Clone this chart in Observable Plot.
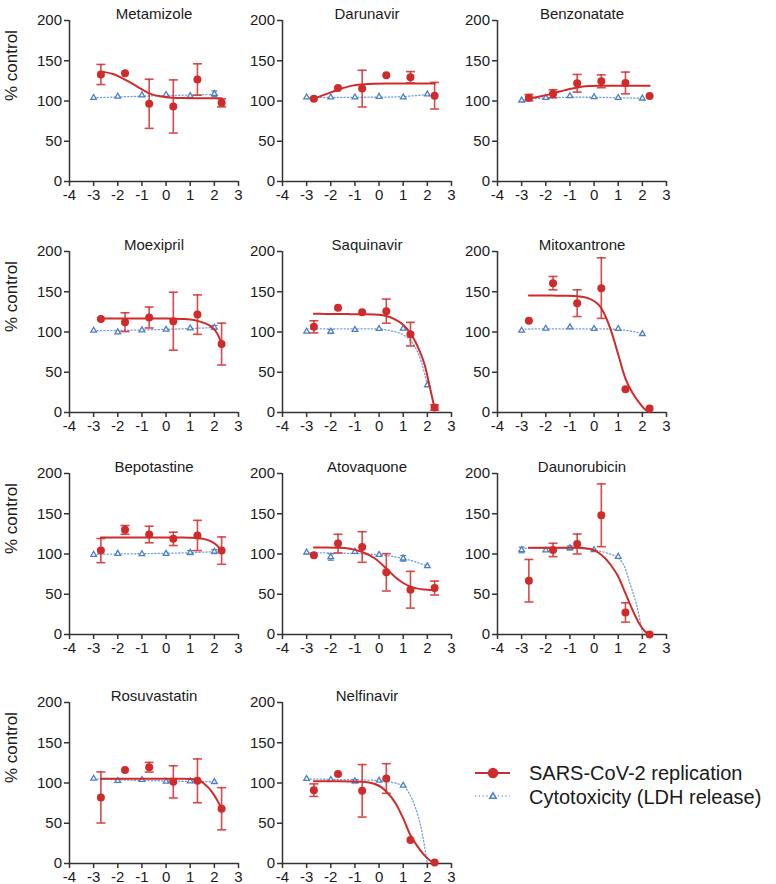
<!DOCTYPE html>
<html><head><meta charset="utf-8">
<script src="https://cdn.jsdelivr.net/npm/d3@7"></script>
<script src="https://cdn.jsdelivr.net/npm/@observablehq/plot@0.6"></script>
<style>
body{margin:0;background:#fff;font-family:"Liberation Sans",Arial,sans-serif;}
#root{position:relative;width:776px;height:884px;overflow:hidden;}
.panel{position:absolute;}
.leg{position:absolute;font-size:20px;line-height:24px;color:#1a1a1a;white-space:nowrap;}
</style></head><body><div id="root"></div>
<script>
// ---------- data ----------
const drugs = ["Metamizole","Darunavir","Benzonatate","Moexipril","Saquinavir","Mitoxantrone",
  "Bepotastine","Atovaquone","Daunorubicin","Rosuvastatin","Nelfinavir"];
const xTicks = [-4,-3,-2,-1,0,1,2,3];
const yTicks = [0,50,100,150,200];
const legendLabels = ["SARS-CoV-2 replication","Cytotoxicity (LDH release)"];

// SARS-CoV-2 replication (red): log concentration, mean and SD
const replicationX = [-2.7,-1.7,-0.7,0.3,1.3,2.3];
const replicationMean = [
  [132.9,134.6,96.5,93.2,126.7,97.7],
  [102.9,116.2,115.4,132,129.5,106.6],
  [104.1,109,122,124.5,122.4,106.2],
  [116.3,112.2,118,113.4,121.6,85],
  [106.4,130,124.6,125.9,97.3,6.2],
  [113.9,160.7,135.8,154.5,29,5],
  [104.2,130,124.2,118.8,123,104.2],
  [98.3,112.9,108.7,77.2,55.6,57.7],
  [66.8,105,112.4,148.1,27.4,0],
  [82,116.3,119.6,101.4,102.7,68],
  [91.1,111.3,90.3,105.6,29.3,1.2]
];
const replicationSD = [
  [12.5,0,30.5,33,19.5,5],
  [0,0,22.8,0,7,16.5],
  [4,5,11,8,13.5,0],
  [0,11.7,13,36,24.5,26],
  [7.5,0,0,15,14.7,3.3],
  [0,8.3,16.6,37.6,0,0],
  [15,5.4,10.3,8.3,18.8,17],
  [0,11.6,19,23.2,22.8,8.7],
  [26.4,8.3,12.4,39,12,0],
  [31.7,0,6,20,27.2,26.2],
  [7.8,0,32.6,18.4,0,0]
];
// Cytotoxicity (blue): log concentration, mean and SD
const cytotoxX = [-3,-2,-1,0,1,2];
const cytotoxMean = [
  [104,105.6,107.2,107.7,106.4,108.9],
  [104.6,104.6,104.6,105.4,104.6,108.3],
  [100.8,104.1,106.2,105,104,103.3],
  [101.9,99.8,102.3,103,104.7,105.6],
  [100.6,100.6,102.7,104,104.3,34],
  [101.9,104.3,106,104,104,97.7],
  [99.2,100.4,100,100.4,101.7,103],
  [102,96.3,102.9,99.2,94.6,85],
  [105,104.6,107.5,105,96.7,null],
  [105.6,102.7,104,101.9,102.3,101.4],
  [105.2,104,102.3,103,96.9,null]
];
const cytotoxSD = [
  [0,0,0,0,0,3.5],
  [0,0,0,0,0,0],
  [0,0,0,0,0,0],
  [0,0,0,0,0,2.5],
  [0,2.5,0,0,0,0],
  [0,0,0,0,0,0],
  [0,0,0,0,2.5,2.5],
  [0,4,0,0,3.5,0],
  [3.5,0,2.5,0,0,0],
  [0,2,0,0,0,0],
  [0,0,2,0,0,0]
];
// fitted curves
const replicationFitX = [-2.7,-2.2,-1.7,-1.2,-0.7,-0.2,0.3,0.7,1.0,1.3,1.6,1.9,2.1,2.3];
const replicationFit = [
  [136.5,133.5,126.5,118,109.5,105.5,104,103.6,103.5,103.5,103.5,103.5,103.5,103.5],
  [103,108.5,114,118.5,120.5,121.4,121.6,121.6,121.6,121.6,121.6,121.6,121.6,121.6],
  [103.3,106,109.5,113.5,116.8,118.5,119,119,119,119,119,119,119,119],
  [116.8,116.8,116.8,116.8,116.8,116.7,116.6,116.2,115.5,113.8,111,106,99,86],
  [122.6,122.5,122.4,122.2,122,121.6,119.8,115,109,98.5,82,58,32,5],
  [145.3,145.3,145.2,145,144.5,141.5,129.5,102,72,42,24,11,4,0.5],
  [120.4,120.4,120.4,120.4,120.4,120.4,120.4,120.4,120.3,120,118.5,115,111,104],
  [108,108,107.8,106.5,102.5,95,82,70.5,64,59.5,57,55.8,55.3,55],
  [107.9,107.9,107.9,107.9,107.9,106.5,99,86,72,51,30,12,4,0],
  [105.2,105.2,105.2,105.2,105.2,105.2,105.2,105.2,105,104,98.5,89,79.5,68],
  [102.3,102.3,102.2,102,101.5,99,89.5,74,56,35,21,9.5,4,0.8]
];
const cytotoxFitX = [-3,-2.5,-2,-1.5,-1,-0.5,0,0.5,1,1.25,1.5,1.75,2];
const cytotoxFit = [
  [104,104.5,105,105.5,106,106.4,106.8,107.1,107.4,107.6,107.8,108,108.2],
  [104.5,104.5,104.5,104.5,104.6,104.7,104.8,105,105.5,106,106.6,107.3,108],
  [101.5,102.8,103.7,104.3,104.6,104.7,104.6,104.4,104.1,103.9,103.7,103.5,103.3],
  [101.5,101.7,101.9,102.2,102.5,102.9,103.3,103.8,104.3,104.6,104.9,105.2,105.6],
  [104,104,104,104,104,104,103.6,101.5,96.5,91,81,63,34],
  [103.5,103.8,104,104,104,104,104,103.8,103,102.3,101.2,99.7,97.7],
  [99.6,99.8,100,100.2,100.4,100.6,100.9,101.2,101.6,101.9,102.2,102.6,103],
  [101.5,101.4,101.2,101,100.6,100,99,97.3,94.5,92.5,90.3,87.8,85],
  [107,107,107,107,107,106.5,105,101.5,95,85,62,38,3],
  [105,104.5,104,103.6,103.2,102.9,102.6,102.3,102,101.9,101.7,101.6,101.4],
  [105,104.8,104.5,104.2,104,103.7,103,101,96,87,70,43,0]
];

// ---------- layout / style ----------
const RED = "#cf2b2b", BLUE = "#4a7fc4", BLUE_LINE = "#6e9fd8", AXIS = "#333";
const colLeft = [69, 282, 497], rowTop = [20, 251, 473, 702];
const W = 169, H = 161, ML = 69, MR = 12, MT = 22, MB = 28;
const cap = half => ({draw(ctx){ ctx.moveTo(-half,0); ctx.lineTo(half,0); }});

const root = document.getElementById("root");

drugs.forEach((name, i) => {
  const col = i % 3, row = Math.floor(i / 3);
  const red = replicationX.map((x, j) => ({x, y: replicationMean[i][j], sd: replicationSD[i][j]}));
  const blue = cytotoxX.map((x, j) => ({x, y: cytotoxMean[i][j], sd: cytotoxSD[i][j]})).filter(d => d.y != null);
  const redFit = replicationFitX.map((x, j) => ({x, y: replicationFit[i][j]}));
  const blueFit = cytotoxFitX.map((x, j) => ({x, y: cytotoxFit[i][j]}));
  const redErr = red.filter(d => d.sd > 0), blueErr = blue.filter(d => d.sd > 0);

  const marks = [
    Plot.axisX(xTicks, {tickSize: 5, tickPadding: 3, tickFormat: d => String(d), fontSize: 15, stroke: AXIS, strokeWidth: 1.5, fill: "#1a1a1a", label: null}),
    Plot.axisY(yTicks, {tickSize: 5, tickPadding: 2.5, tickFormat: d => String(d), fontSize: 15, stroke: AXIS, strokeWidth: 1.5, fill: "#1a1a1a", label: null}),
    Plot.ruleY([0], {stroke: AXIS, strokeWidth: 1.5}),
    Plot.ruleX([-4], {stroke: AXIS, strokeWidth: 1.5}),
    Plot.text([name], {text: d => d, frameAnchor: "top", dy: -12, fontSize: 15, fill: "#1a1a1a"}),
    // cytotoxicity
    Plot.line(blueFit, {x: "x", y: "y", curve: "monotone-x", stroke: BLUE_LINE, strokeWidth: 1.3, strokeDasharray: "1.2,2.2"}),
    Plot.ruleX(blueErr, {x: "x", y1: d => d.y - d.sd, y2: d => d.y + d.sd, stroke: BLUE, strokeWidth: 1.2}),
    Plot.dot(blueErr, {x: "x", y: d => d.y + d.sd, symbol: cap(3), r: 3, stroke: BLUE, strokeWidth: 1.2, fill: "none"}),
    Plot.dot(blueErr, {x: "x", y: d => d.y - d.sd, symbol: cap(3), r: 3, stroke: BLUE, strokeWidth: 1.2, fill: "none"}),
    Plot.dot(blue, {x: "x", y: "y", symbol: "triangle", r: 2.1, stroke: BLUE, strokeWidth: 1.3, fill: "white"}),
    // replication
    Plot.line(redFit, {x: "x", y: "y", curve: "monotone-x", stroke: RED, strokeWidth: 2}),
    Plot.ruleX(redErr, {x: "x", y1: d => d.y - d.sd, y2: d => d.y + d.sd, stroke: RED, strokeWidth: 1.6, strokeOpacity: 0.85}),
    Plot.dot(redErr, {x: "x", y: d => d.y + d.sd, symbol: cap(4.5), r: 4, stroke: RED, strokeWidth: 1.6, strokeOpacity: 0.85, fill: "none"}),
    Plot.dot(redErr, {x: "x", y: d => d.y - d.sd, symbol: cap(4.5), r: 4, stroke: RED, strokeWidth: 1.6, strokeOpacity: 0.85, fill: "none"}),
    Plot.dot(red, {x: "x", y: "y", r: 4, fill: RED, stroke: "none"})
  ];
  if (col === 0) marks.push(Plot.text(["% control"], {text: d => d, frameAnchor: "left", dx: -57.5, rotate: -90, fontSize: 17, fill: "#1a1a1a"}));

  const svg = Plot.plot({
    width: ML + W + MR, height: MT + H + MB,
    marginLeft: ML, marginRight: MR, marginTop: MT, marginBottom: MB,
    x: {domain: [-4, 3]},
    y: {domain: [0, 200]},
    style: {fontFamily: '"Liberation Sans", Arial, sans-serif', fontSize: "15px", background: "transparent", overflow: "visible", color: "#1a1a1a"},
    marks
  });
  svg.classList.add("panel");
  svg.style.left = (colLeft[col] - ML) + "px";
  svg.style.top = (rowTop[row] - MT) + "px";
  svg.style.maxWidth = "none";
  root.appendChild(svg);
});

// legend
const ns = "http://www.w3.org/2000/svg";
const lg = document.createElementNS(ns, "svg");
lg.setAttribute("width", 50); lg.setAttribute("height", 50);
lg.style.position = "absolute"; lg.style.left = "470px"; lg.style.top = "758px";
lg.innerHTML =
  `<line x1="5" x2="40" y1="15" y2="15" stroke="${RED}" stroke-width="2"/>` +
  `<circle cx="23" cy="15" r="5.2" fill="${RED}"/>` +
  `<line x1="5" x2="40" y1="38" y2="38" stroke="${BLUE_LINE}" stroke-width="1.4" stroke-dasharray="1.2,2.6"/>` +
  `<path d="${d3.symbol(d3.symbolTriangle, 18)()}" transform="translate(23,38.5)" fill="white" stroke="${BLUE}" stroke-width="1.5"/>`;
root.appendChild(lg);
legendLabels.forEach((t, k) => {
  const d = document.createElement("div");
  d.className = "leg"; d.textContent = t;
  d.style.left = "529px"; d.style.top = (761 + k * 24) + "px";
  root.appendChild(d);
});
</script></body></html>
